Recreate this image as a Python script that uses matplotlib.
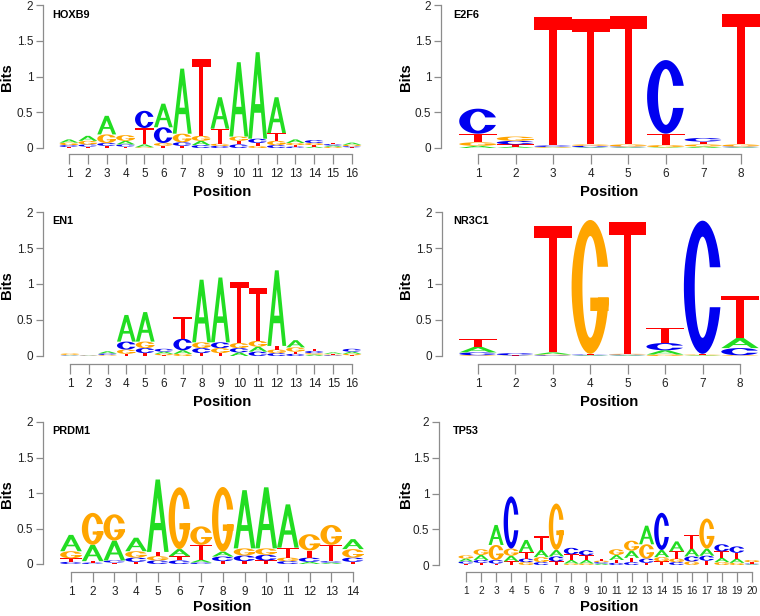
import numpy as np
import matplotlib
matplotlib.use('Agg')
import matplotlib.pyplot as plt
from matplotlib.path import Path
from matplotlib.patches import PathPatch

plt.rcParams['font.family'] = ['Liberation Sans', 'DejaVu Sans']

# letter heights in bits, one value per position
HOXB9_A = [0.045, 0.07, 0.26, 0.05, 0.04, 0.33, 0.91, 0.06, 0.44, 1.04, 1.21, 0.50, 0.05, 0.02, 0.02, 0.03]
HOXB9_C = [0.025, 0.03, 0.04, 0.03, 0.24, 0.22, 0.05, 0.04, 0.03, 0.05, 0.06, 0.04, 0.02, 0.04, 0.02, 0.015]
HOXB9_G = [0.035, 0.05, 0.12, 0.08, 0.01, 0.04, 0.12, 0.07, 0.03, 0.06, 0.03, 0.06, 0.03, 0.03, 0.015, 0.02]
HOXB9_T = [0.015, 0.02, 0.03, 0.02, 0.23, 0.03, 0.03, 1.07, 0.21, 0.05, 0.04, 0.11, 0.02, 0.02, 0.02, 0.01]

E2F6_A = [0.03, 0.02, 0.005, 0.01, 0.01, 0.01, 0.02, 0.01]
E2F6_C = [0.35, 0.05, 0.02, 0.02, 0.01, 1.03, 0.05, 0.01]
E2F6_G = [0.05, 0.06, 0.01, 0.02, 0.03, 0.03, 0.03, 0.03]
E2F6_T = [0.12, 0.03, 1.80, 1.75, 1.79, 0.16, 0.04, 1.82]

EN1_A = [0.005, 0.004, 0.03, 0.37, 0.41, 0.03, 0.05, 0.87, 0.90, 0.05, 0.07, 1.05, 0.10, 0.02, 0.02, 0.03]
EN1_C = [0.005, 0.004, 0.02, 0.11, 0.07, 0.04, 0.16, 0.07, 0.08, 0.06, 0.06, 0.04, 0.03, 0.03, 0.01, 0.04]
EN1_G = [0.02, 0.004, 0.01, 0.06, 0.09, 0.02, 0.03, 0.08, 0.07, 0.07, 0.08, 0.05, 0.06, 0.02, 0.01, 0.02]
EN1_T = [0.005, 0.004, 0.005, 0.03, 0.04, 0.01, 0.30, 0.04, 0.04, 0.85, 0.73, 0.05, 0.03, 0.03, 0.01, 0.01]

NR3C1_A = [0.08, 0.003, 0.03, 0.01, 0.01, 0.06, 0.01, 0.14]
NR3C1_C = [0.04, 0.03, 0.01, 0.01, 0.01, 0.10, 1.85, 0.10]
NR3C1_G = [0.01, 0.003, 0.01, 1.86, 0.01, 0.02, 0.01, 0.01]
NR3C1_T = [0.10, 0.003, 1.76, 0.01, 1.83, 0.21, 0.01, 0.58]

PRDM1_A = [0.23, 0.23, 0.28, 0.19, 1.02, 0.10, 0.04, 0.07, 0.82, 0.86, 0.61, 0.03, 0.02, 0.14]
PRDM1_C = [0.03, 0.02, 0.03, 0.06, 0.05, 0.05, 0.02, 0.065, 0.08, 0.08, 0.04, 0.06, 0.02, 0.06]
PRDM1_G = [0.10, 0.45, 0.37, 0.09, 0.06, 0.87, 0.26, 0.91, 0.10, 0.09, 0.05, 0.23, 0.28, 0.12]
PRDM1_T = [0.05, 0.02, 0.02, 0.03, 0.06, 0.06, 0.21, 0.04, 0.04, 0.05, 0.14, 0.10, 0.23, 0.03]

TP53_A = [0.04, 0.07, 0.28, 0.08, 0.17, 0.10, 0.09, 0.05, 0.05, 0.02, 0.07, 0.10, 0.26, 0.10, 0.14, 0.11, 0.10, 0.06, 0.06, 0.01]
TP53_C = [0.03, 0.04, 0.05, 0.73, 0.05, 0.04, 0.07, 0.09, 0.07, 0.02, 0.03, 0.04, 0.06, 0.52, 0.04, 0.07, 0.07, 0.10, 0.09, 0.01]
TP53_G = [0.045, 0.08, 0.21, 0.10, 0.04, 0.07, 0.65, 0.02, 0.02, 0.02, 0.08, 0.14, 0.20, 0.06, 0.05, 0.05, 0.42, 0.04, 0.03, 0.03]
TP53_T = [0.02, 0.03, 0.02, 0.05, 0.09, 0.19, 0.05, 0.08, 0.065, 0.03, 0.04, 0.06, 0.03, 0.05, 0.10, 0.19, 0.06, 0.09, 0.08, 0.02]

MOTIFS = [
    ('HOXB9', [HOXB9_A, HOXB9_C, HOXB9_G, HOXB9_T]),
    ('E2F6', [E2F6_A, E2F6_C, E2F6_G, E2F6_T]),
    ('EN1', [EN1_A, EN1_C, EN1_G, EN1_T]),
    ('NR3C1', [NR3C1_A, NR3C1_C, NR3C1_G, NR3C1_T]),
    ('PRDM1', [PRDM1_A, PRDM1_C, PRDM1_G, PRDM1_T]),
    ('TP53', [TP53_A, TP53_C, TP53_G, TP53_T]),
]
BASES = ['A', 'C', 'G', 'T']
COLORS = {'A': '#22dd22', 'C': '#0000f0', 'G': '#ffa500', 'T': '#ff0000'}

W, H = 760, 616
# pixel layout: pos-1 x, pos-n x, y of 0, y of 2, y-axis x, x-axis y, xlabel y
LAYOUT = {
    'HOXB9': (69, 352, 148, 5, 43, 154, 192),
    'E2F6': (478, 741, 148, 5, 441, 154, 192),
    'EN1': (70, 352, 356, 212, 43, 364, 402),
    'NR3C1': (478, 740, 356, 212, 442, 364, 402),
    'PRDM1': (71, 353, 564, 422, 43, 572, 607),
    'TP53': (466, 752, 565, 422, 439, 572, 607),
}


def ring(top, bot, rxi=0.21, ryi=0.38, n=60):
    t0 = np.arcsin((top - 0.5) / 0.5)
    t1 = np.arcsin((bot - 0.5) / 0.5)
    th = np.linspace(t0, 2 * np.pi + t1, n)
    outer = np.c_[0.5 + 0.5 * np.cos(th), 0.5 + 0.5 * np.sin(th)]
    p0 = np.arcsin(np.clip((top - 0.5) / ryi, -1, 1))
    p1 = np.arcsin(np.clip((bot - 0.5) / ryi, -1, 1))
    ph = np.linspace(2 * np.pi + p1, p0, n)
    inner = np.c_[0.5 + rxi * np.cos(ph), 0.5 + ryi * np.sin(ph)]
    return np.vstack([outer, inner])


def shapes():
    a_out = np.array([(0, 0), (4, 10), (6, 10), (10, 0), (8, 0), (6.8, 3), (3.2, 3), (2, 0)]) / 10.0
    a_hole = np.array([(3.6, 4), (6.4, 4), (5, 7.5)]) / 10.0
    t = np.array([(0, 10), (10, 10), (10, 9), (6, 9), (6, 0), (4, 0), (4, 9), (0, 9)]) / 10.0
    g_bar = np.array([(0.5, 0.32), (0.99, 0.32), (0.99, 0.42), (0.5, 0.42)])
    return {'A': [a_out, a_hole], 'C': [ring(0.65, 0.35)],
            'G': [ring(0.65, 0.42), g_bar], 'T': [t]}


SHAPES = shapes()


def add_letter(ax, ch, x, y, w, h):
    verts, codes = [], []
    for poly in SHAPES[ch]:
        p = poly * [w, h] + [x, y]
        verts.extend(p.tolist() + [p[0].tolist()])
        codes.extend([Path.MOVETO] + [Path.LINETO] * (len(p) - 1) + [Path.CLOSEPOLY])
    ax.add_patch(PathPatch(Path(verts, codes), facecolor=COLORS[ch], lw=0, clip_on=False))


fig = plt.figure(figsize=(W / 100, H / 100), dpi=100)

for k, (name, heights) in enumerate(MOTIFS):
    x1, xn, y0, y2, spx, axy, laby = LAYOUT[name]
    n = len(heights[0])
    dx = (xn - x1) / (n - 1)
    left = x1 - dx / 2
    ax = fig.add_axes([left / W, 1 - y0 / H, n * dx / W, (y0 - y2) / H])
    ax.patch.set_visible(False)

    # stack letters, smallest at the bottom
    for i in range(n):
        col = sorted(zip([h[i] for h in heights], BASES))
        y = 0
        for h, ch in col:
            add_letter(ax, ch, i + 0.5, y, 1.0, h)
            y += h

    ax.set_xlim(0.5, n + 0.5)
    ax.set_ylim(0, 2)
    for s in ['top', 'right']:
        ax.spines[s].set_visible(False)
    ax.spines['left'].set_position(('outward', (left - spx) * 0.72))
    ax.spines['bottom'].set_position(('outward', (axy - y0) * 0.72))
    ax.spines['left'].set_bounds(0, 2)
    ax.spines['bottom'].set_bounds(1, n)
    for s in ['left', 'bottom']:
        ax.spines[s].set_color('#8c8c8c')
        ax.spines[s].set_linewidth(0.9)
    ax.set_xticks(range(1, n + 1))
    ax.set_yticks([0, 0.5, 1, 1.5, 2])
    ax.set_yticklabels(['0', '0.5', '1', '1.5', '2'])
    ax.tick_params(axis='x', length=7, width=0.9, color='#8c8c8c', pad=3,
                   labelsize=7.3 if n > 16 else 8.5, labelcolor='#222222')
    ax.tick_params(axis='y', length=5, width=0.9, color='#8c8c8c', pad=2,
                   labelsize=8.5, labelcolor='#222222')

    right_col = k % 2 == 1
    ax.set_xlabel('Position', fontsize=10.6, fontweight='bold', va='center')
    ax.xaxis.set_label_coords(609 / W if right_col else 222 / W,
                              1 - laby / H, transform=fig.transFigure)
    ax.set_ylabel('Bits', fontsize=10.6, fontweight='bold', va='center')
    ax.yaxis.set_label_coords(406 / W if right_col else 6.5 / W,
                              1 - ((y0 + y2) / 2 + 1) / H, transform=fig.transFigure)
    fig.text((453 if right_col else 52) / W, 1 - (y2 + 9.5) / H, name,
             fontsize=7.8, fontweight='bold', ha='left', va='center')

fig.savefig('out.png', dpi=100)
